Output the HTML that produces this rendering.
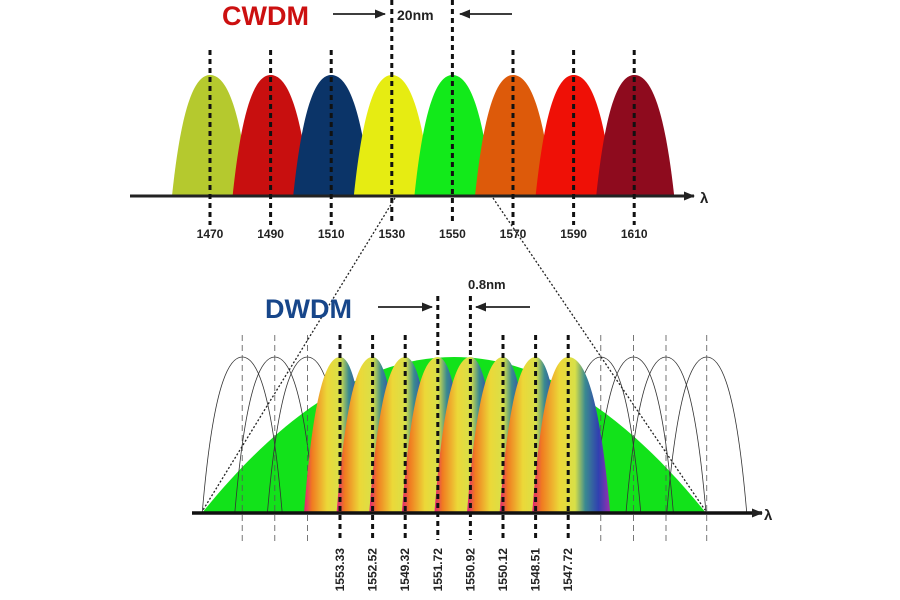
<!DOCTYPE html>
<html><head><meta charset="utf-8"><style>
html,body{margin:0;padding:0;background:#fff;}
svg{display:block;font-family:"Liberation Sans",sans-serif;}
</style></head><body>
<svg id="chart" width="900" height="600" viewBox="0 0 900 600">
<defs>
<linearGradient id="rb" x1="0" x2="1" y1="0" y2="0">
<stop offset="0" stop-color="#e0207a"/><stop offset="0.12" stop-color="#f07a20"/>
<stop offset="0.35" stop-color="#ecd838"/><stop offset="0.55" stop-color="#d8e048"/>
<stop offset="0.68" stop-color="#3a8a90"/><stop offset="0.85" stop-color="#3040b0"/>
<stop offset="1" stop-color="#9a30b0"/></linearGradient>
<marker id="ah" markerUnits="userSpaceOnUse" markerWidth="11" markerHeight="9" refX="10" refY="4.5" orient="auto"><path d="M0,0 L11,4.5 L0,9 Z" fill="#222"/></marker>
</defs>
<g id="topPanel"></g>
<g id="botPanel"></g>
<line x1="395" y1="198" x2="203" y2="510" stroke="#222" stroke-width="1.3" stroke-dasharray="2,2"/>
<line x1="493" y1="198" x2="705" y2="510" stroke="#222" stroke-width="1.3" stroke-dasharray="2,2"/>
<text x="222" y="25" font-size="27" font-weight="bold" fill="#cc1010">CWDM</text>
<line x1="333" y1="14" x2="385" y2="14" stroke="#222" stroke-width="1.8" marker-end="url(#ah)"/>
<line x1="512" y1="14" x2="460" y2="14" stroke="#222" stroke-width="1.8" marker-end="url(#ah)"/>
<text x="397" y="20" font-size="14" font-weight="bold" fill="#222">20nm</text>
<text x="265" y="318" font-size="27" font-weight="bold" fill="#17468a">DWDM</text>
<line x1="378" y1="307" x2="432" y2="307" stroke="#222" stroke-width="1.8" marker-end="url(#ah)"/>
<line x1="530" y1="307" x2="476" y2="307" stroke="#222" stroke-width="1.8" marker-end="url(#ah)"/>
<text x="468" y="289" font-size="13" font-weight="bold" fill="#222">0.8nm</text>
</svg>
<script>
const cwdmWavelengths=[1470,1490,1510,1530,1550,1570,1590,1610];
const cwdmColors=['#b5c92e','#c80f0f','#0b3468','#e6ec12','#12ea1a','#dd5a0a','#ef1006','#8e0b1e'];
const dwdmLabels=['1553.33','1552.52','1549.32','1551.72','1550.92','1550.12','1548.51','1547.72'];
const dwdmIndex=[0,1,2,3,4,5,6,7];
const ghostIndex=[-3,-2,-1,8,9,10,11.25];
const NS='http://www.w3.org/2000/svg';
function mk(p,t,a){const e=document.createElementNS(NS,t);for(const k in a)e.setAttribute(k,a[k]);p.appendChild(e);return e;}
const gTop=document.getElementById('topPanel'),gBot=document.getElementById('botPanel');
const xC=w=>210+(w-1470)*3.03;const axT=196,peakT=75;
function lump(c,l,r,yb,yp){return `M${c-l},${yb} C${c-l*0.75},${yp+(yb-yp)*0.25} ${c-l*0.4},${yp} ${c},${yp} C${c+r*0.4},${yp} ${c+r*0.75},${yp+(yb-yp)*0.25} ${c+r},${yb} Z`;}
cwdmWavelengths.forEach((w,i)=>{const p=mk(gTop,'path',{d:lump(xC(w),38,40,axT,peakT),fill:cwdmColors[i]});

});
const ax=mk(gTop,'line',{x1:130,y1:axT,x2:694,y2:axT,stroke:'#222','stroke-width':3,'marker-end':'url(#ah)'});


const l1=mk(gTop,'text',{x:700,y:203,'font-size':15,'font-weight':'bold',fill:'#222'});l1.textContent='λ';


cwdmWavelengths.forEach(w=>{const x=xC(w);const y0=(w===1530||w===1550)?0:50;
const d=mk(gTop,'line',{x1:x,y1:y0,x2:x,y2:225,stroke:'#111','stroke-width':3,'stroke-dasharray':'5,4'});


const t=mk(gTop,'text',{x:x,y:238,'font-size':12,'font-weight':'bold',fill:'#222','text-anchor':'middle'});t.textContent=w;

});
const xD=i=>340+i*32.6;const axB=513,peakB=357;
const g=mk(gBot,'path',{d:`M202,${axB} C370,305 538,305 706,${axB} Z`,fill:'#12e21a'});


ghostIndex.forEach(i=>{const x=xD(i);const c=mk(gBot,'path',{d:lump(x,40,40,axB,peakB).replace(' Z',''),fill:'none',stroke:'#333','stroke-width':0.8});


const d=mk(gBot,'line',{x1:x,y1:335,x2:x,y2:545,stroke:'#555','stroke-width':0.8,'stroke-dasharray':'6,4'});

});
dwdmIndex.forEach(i=>{const x=xD(i);const r=i===7?42:30;const p=mk(gBot,'path',{d:lump(x,36,r,axB,peakB),fill:'url(#rb)'});

});
const ax2=mk(gBot,'line',{x1:192,y1:axB,x2:762,y2:axB,stroke:'#111','stroke-width':3.5,'marker-end':'url(#ah)'});


const l2=mk(gBot,'text',{x:764,y:520,'font-size':15,'font-weight':'bold',fill:'#222'});l2.textContent='λ';


dwdmIndex.forEach(i=>{const x=xD(i);const y0=(i===3||i===4)?296:335;
const d=mk(gBot,'line',{x1:x,y1:y0,x2:x,y2:540,stroke:'#111','stroke-width':3,'stroke-dasharray':'5,4'});


const t=mk(gBot,'text',{x:0,y:0,'font-size':12,'font-weight':'bold',fill:'#222','text-anchor':'end',transform:`translate(${x+4},548) rotate(-90)`});t.textContent=dwdmLabels[i];

});
</script>
</body></html>
